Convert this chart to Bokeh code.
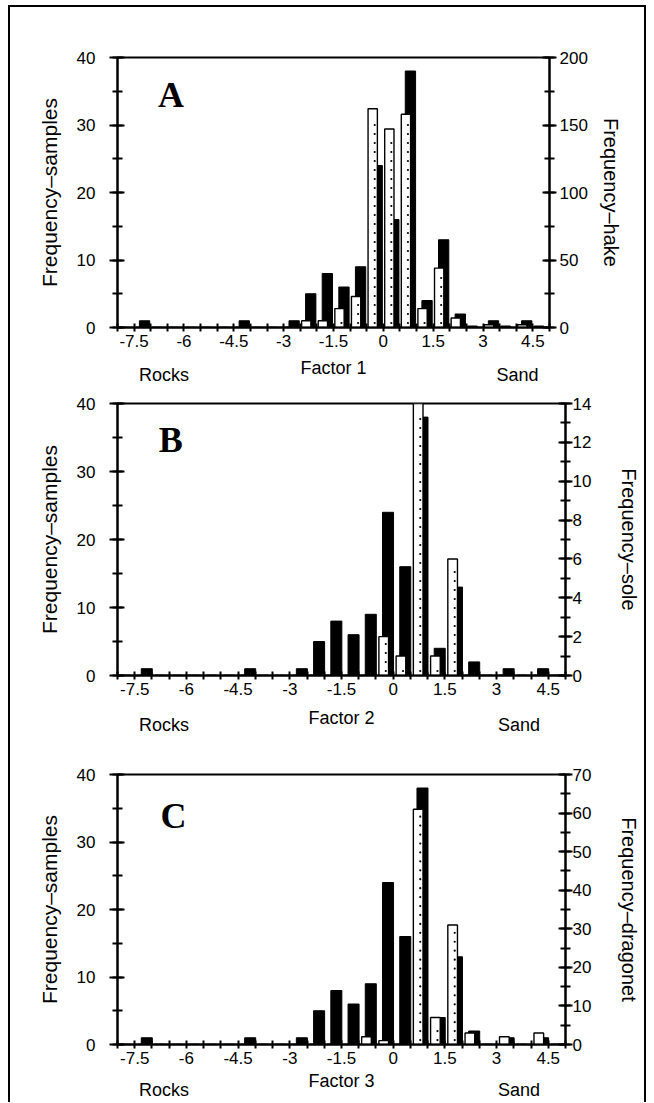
from bokeh.plotting import figure
from bokeh.models import (Range1d, LinearAxis, FixedTicker, SingleIntervalTicker, Label,
                          ColumnDataSource)
from bokeh.layouts import column
from bokeh.transform import dodge
from bokeh.embed import file_html
from bokeh.resources import INLINE

# ---------------- data ----------------
bin_start = [-8.0, -7.5, -7.0, -6.5, -6.0, -5.5, -5.0, -4.5, -4.0, -3.5, -3.0, -2.5, -2.0,
             -1.5, -1.0, -0.5, 0.0, 0.5, 1.0, 1.5, 2.0, 2.5, 3.0, 3.5, 4.0, 4.5]
samples = [0, 1, 0, 0, 0, 0, 0, 1, 0, 0, 1, 5, 8, 6, 9, 24, 16, 38, 4, 13, 2, 0, 1, 0, 1, 0]
hake = [0, 0, 0, 0, 0, 0, 0, 0, 0, 0, 0, 5, 5, 14, 23, 162, 147, 158, 14, 44, 7, 1, 2, 1, 2, 1]
sole = [0, 0, 0, 0, 0, 0, 0, 0, 0, 0, 0, 0, 0, 0, 0, 2, 1, 14, 1, 6, 0, 0, 0, 0, 0, 0]
dragonet = [0, 0, 0, 0, 0, 0, 0, 0, 0, 0, 0, 0, 0, 0, 2, 1, 0, 61, 7, 31, 3, 0, 2, 0, 3, 0]

x_ticks_all = [-8.0, -7.5, -7.0, -6.5, -6.0, -5.5, -5.0, -4.5, -4.0, -3.5, -3.0, -2.5, -2.0,
               -1.5, -1.0, -0.5, 0.0, 0.5, 1.0, 1.5, 2.0, 2.5, 3.0, 3.5, 4.0, 4.5, 5.0]
x_label_values = [-7.5, -6.0, -4.5, -3.0, -1.5, 0.0, 1.5, 3.0, 4.5]
x_label_texts = ["-7.5", "-6", "-4.5", "-3", "-1.5", "0", "1.5", "3", "4.5"]
end_labels = ["Rocks", "Sand"]

FONT = "Liberation Sans"
SERIF = "Liberation Serif"


def stipple(species, sp_max, frame_h, x_off, spacing_px=9):
    """Stipple dots inside each dotted bar, derived from the bar values."""
    step = spacing_px * sp_max / frame_h
    xs, ys = [], []
    for s, v in zip(bin_start, species):
        k = 1
        while k * step < v - 0.3 * step:
            xs.append(s + x_off)
            ys.append(k * step - 0.5 * step)
            k += 1
    return xs, ys


def make_panel(letter, factor, species, sp_label, sp_max, sp_major, H, top, bottom, left, right,
               frame_h, white_c, white_w, black_c, black_w, letter_x, letter_y, rock_x, sand_x,
               end_standoff, x_label_standoff, r_tick_standoff, r_label_standoff):
    p = figure(width=634, height=H, x_range=Range1d(-8, 5), y_range=Range1d(0, 40),
               output_backend="svg", toolbar_location=None,
               min_border_left=left, min_border_right=right,
               min_border_top=top, min_border_bottom=bottom)
    p.grid.visible = False
    p.outline_line_color = "black"
    p.outline_line_width = 2
    p.background_fill_color = "white"
    p.border_fill_color = "white"

    p.extra_y_ranges = {"sp": Range1d(0, sp_max)}

    src = ColumnDataSource(dict(start=bin_start, samples=samples, sp=species))
    p.vbar(x=dodge("start", black_c), width=black_w, top="samples", bottom=0, source=src,
           fill_color="black", line_color="black", line_width=1)
    p.vbar(x=dodge("start", white_c), width=white_w, top="sp", bottom=0, source=src,
           y_range_name="sp", fill_color="white", line_color="black", line_width=1.4)
    dx, dy = stipple(species, sp_max, frame_h, white_c + 0.06)
    p.scatter(x=dx, y=dy, y_range_name="sp", marker="circle", size=2.2,
              fill_color="black", line_color=None)

    # x axis with numeric ticks
    xa = p.xaxis[0]
    xa.ticker = FixedTicker(ticks=x_ticks_all, minor_ticks=[])
    ov = {t: "" for t in x_ticks_all}
    for v, s in zip(x_label_values, x_label_texts):
        ov[v] = s
    xa.major_label_overrides = ov
    xa.axis_line_width = 2
    xa.major_tick_line_width = 2
    xa.major_tick_in = 4
    xa.major_tick_out = 4
    xa.major_label_standoff = 3
    xa.major_label_text_font = FONT
    xa.major_label_text_font_size = "17px"
    xa.major_label_text_color = "black"
    xa.axis_label = factor
    xa.axis_label_text_font = FONT
    xa.axis_label_text_font_style = "normal"
    xa.axis_label_text_font_size = "18px"
    xa.axis_label_text_color = "black"
    xa.axis_label_standoff = x_label_standoff

    # second bottom axis carrying the "Rocks" / "Sand" end labels
    ea = LinearAxis(ticker=FixedTicker(ticks=[rock_x, sand_x], minor_ticks=[]))
    ea.major_label_overrides = {rock_x: end_labels[0], sand_x: end_labels[1]}
    ea.axis_line_color = None
    ea.major_tick_line_color = None
    ea.minor_tick_line_color = None
    ea.major_tick_in = 0
    ea.major_tick_out = 0
    ea.major_label_standoff = end_standoff
    ea.major_label_text_font = FONT
    ea.major_label_text_font_size = "18px"
    ea.major_label_text_color = "black"
    p.add_layout(ea, "below")

    # left axis
    ya = p.yaxis[0]
    ya.ticker = SingleIntervalTicker(interval=10, num_minor_ticks=2)
    ya.axis_line_width = 2
    ya.major_tick_line_width = 2
    ya.minor_tick_line_width = 2
    ya.major_tick_in = 7
    ya.major_tick_out = 8
    ya.minor_tick_in = 5
    ya.minor_tick_out = 5
    ya.major_label_standoff = 14
    ya.major_label_text_font = FONT
    ya.major_label_text_font_size = "17px"
    ya.major_label_text_color = "black"
    ya.axis_label = "Frequency\u2013samples"
    ya.axis_label_text_font = FONT
    ya.axis_label_text_font_style = "normal"
    ya.axis_label_text_font_size = "21px"
    ya.axis_label_text_color = "black"
    ya.axis_label_standoff = 13

    # right axis
    ra = LinearAxis(y_range_name="sp",
                    ticker=SingleIntervalTicker(interval=sp_major, num_minor_ticks=2))
    ra.axis_line_width = 2
    ra.major_tick_line_width = 2
    ra.minor_tick_line_width = 2
    ra.major_tick_in = 7
    ra.major_tick_out = 7
    ra.minor_tick_in = 5
    ra.minor_tick_out = 5
    ra.major_label_standoff = r_tick_standoff
    ra.major_label_text_font = FONT
    ra.major_label_text_font_size = "17px"
    ra.major_label_text_color = "black"
    ra.axis_label = sp_label
    ra.axis_label_text_font = FONT
    ra.axis_label_text_font_style = "normal"
    ra.axis_label_text_font_size = "20px"
    ra.axis_label_text_color = "black"
    ra.axis_label_standoff = r_label_standoff
    p.add_layout(ra, "right")

    p.add_layout(Label(x=letter_x, y=letter_y, text=letter, text_font=SERIF,
                       text_font_style="bold", text_font_size="36px",
                       text_baseline="alphabetic", text_align="left", text_color="black"))
    return p


pA = make_panel("A", "Factor 1", hake, "Frequency\u2013hake", 200, 50,
                H=383, top=50, bottom=63, left=107, right=95, frame_h=270,
                white_c=0.18, white_w=0.28, black_c=0.315, black_w=0.31,
                letter_x=-6.78, letter_y=34.5, rock_x=-6.6, sand_x=4.04, end_standoff=-16,
                x_label_standoff=8, r_tick_standoff=3, r_label_standoff=9)
pB = make_panel("B", "Factor 2", sole, "Frequency\u2013sole", 14, 2,
                H=372, top=13, bottom=87, left=107, right=79, frame_h=272,
                white_c=0.225, white_w=0.28, black_c=0.35, black_w=0.32,
                letter_x=-6.8, letter_y=34.7, rock_x=-6.65, sand_x=3.65, end_standoff=-16,
                x_label_standoff=10, r_tick_standoff=0, r_label_standoff=24)
pC = make_panel("C", "Factor 3", dragonet, "Frequency\u2013dragonet", 70, 10,
                H=340, top=12, bottom=56, left=107, right=79, frame_h=272,
                white_c=0.225, white_w=0.28, black_c=0.35, black_w=0.32,
                letter_x=-6.75, letter_y=33.9, rock_x=-6.65, sand_x=3.65, end_standoff=-14,
                x_label_standoff=4, r_tick_standoff=0, r_label_standoff=24)

side = {"margin-left": "8px", "border-left": "2px solid black", "border-right": "2px solid black"}
cA = column(pA, styles=dict(side, **{"margin-top": "5px", "border-top": "2px solid black"}))
cB = column(pB, styles=dict(side))
cC = column(pC, styles=dict(side))

open("out.html", "w").write(file_html([cA, cB, cC], INLINE))
